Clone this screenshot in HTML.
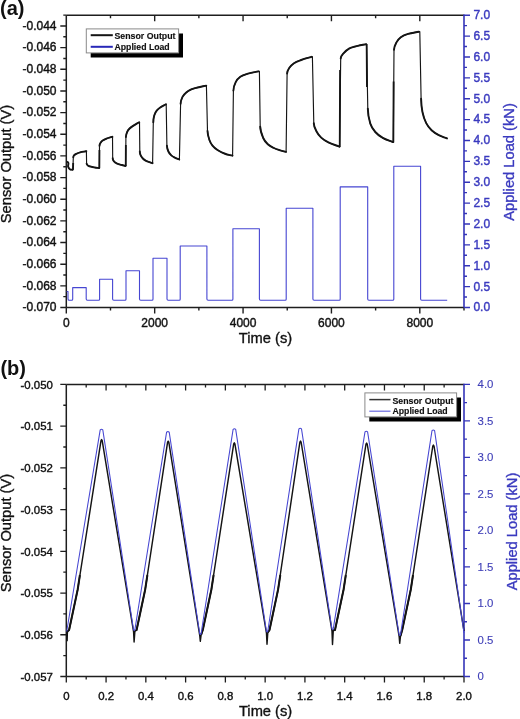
<!DOCTYPE html>
<html><head><meta charset="utf-8"><title>Sensor output vs applied load</title>
<style>
html,body{margin:0;padding:0;background:#fff;}
body{width:520px;height:719px;overflow:hidden;}
svg{display:block;will-change:transform;}
text{font-family:"Liberation Sans",sans-serif;fill:currentColor;color:#111;}
.ta{font-size:12px;stroke:currentColor;stroke-width:0.4px;}
.tb{font-size:11.4px;stroke:currentColor;stroke-width:0.38px;}
.tt{font-size:14.7px;stroke:currentColor;stroke-width:0.35px;}
.pl{font-size:20px;font-weight:bold;}
.lg{font-weight:bold;font-size:9px;stroke:currentColor;stroke-width:0.15px;}
</style></head>
<body>
<svg width="520" height="719" viewBox="0 0 520 719">
<rect width="520" height="719" fill="#fff"/>
<path d="M66.3 15.2V307.5M66.3 15.2H464M66.3 307.5H464" stroke="#1e1e1e" stroke-width="1.5" fill="none"/>
<path d="M464 14.6V308.1" stroke="#3434b8" stroke-width="1.6" fill="none"/>
<path d="M60.3 307.5H66.3M63.3 296.67H66.3M60.3 285.85H66.3M63.3 275.02H66.3M60.3 264.19H66.3M63.3 253.36H66.3M60.3 242.54H66.3M63.3 231.71H66.3M60.3 220.88H66.3M63.3 210.06H66.3M60.3 199.23H66.3M63.3 188.4H66.3M60.3 177.58H66.3M63.3 166.75H66.3M60.3 155.92H66.3M63.3 145.09H66.3M60.3 134.27H66.3M63.3 123.44H66.3M60.3 112.61H66.3M63.3 101.79H66.3M60.3 90.96H66.3M63.3 80.13H66.3M60.3 69.31H66.3M63.3 58.48H66.3M60.3 47.65H66.3M63.3 36.82H66.3M60.3 26H66.3M63.3 15.17H66.3M66.3 307.5V313.5M110.49 307.5V310.5M110.49 15.2V18.2M154.68 307.5V313.5M154.68 15.2V21.2M198.87 307.5V310.5M198.87 15.2V18.2M243.06 307.5V313.5M243.06 15.2V21.2M287.24 307.5V310.5M287.24 15.2V18.2M331.43 307.5V313.5M331.43 15.2V21.2M375.62 307.5V310.5M375.62 15.2V18.2M419.81 307.5V313.5M419.81 15.2V21.2M464 307.5V310.5" stroke="#1e1e1e" stroke-width="1.4" fill="none"/>
<path d="M464 307.5H470M464 297.06H467M464 286.62H470M464 276.18H467M464 265.74H470M464 255.3H467M464 244.86H470M464 234.43H467M464 223.99H470M464 213.55H467M464 203.11H470M464 192.67H467M464 182.23H470M464 171.79H467M464 161.35H470M464 150.91H467M464 140.47H470M464 130.03H467M464 119.59H470M464 109.15H467M464 98.71H470M464 88.27H467M464 77.84H470M464 67.4H467M464 56.96H470M464 46.52H467M464 36.08H470M464 25.64H467M464 15.2H470" stroke="#3434b8" stroke-width="1.4" fill="none"/>
<text x="56.5" y="311.3" class="ta" text-anchor="end">-0.070</text>
<text x="56.5" y="289.65" class="ta" text-anchor="end">-0.068</text>
<text x="56.5" y="267.99" class="ta" text-anchor="end">-0.066</text>
<text x="56.5" y="246.34" class="ta" text-anchor="end">-0.064</text>
<text x="56.5" y="224.68" class="ta" text-anchor="end">-0.062</text>
<text x="56.5" y="203.03" class="ta" text-anchor="end">-0.060</text>
<text x="56.5" y="181.38" class="ta" text-anchor="end">-0.058</text>
<text x="56.5" y="159.72" class="ta" text-anchor="end">-0.056</text>
<text x="56.5" y="138.07" class="ta" text-anchor="end">-0.054</text>
<text x="56.5" y="116.41" class="ta" text-anchor="end">-0.052</text>
<text x="56.5" y="94.76" class="ta" text-anchor="end">-0.050</text>
<text x="56.5" y="73.11" class="ta" text-anchor="end">-0.048</text>
<text x="56.5" y="51.45" class="ta" text-anchor="end">-0.046</text>
<text x="56.5" y="29.8" class="ta" text-anchor="end">-0.044</text>
<text x="66.3" y="327" class="ta" text-anchor="middle">0</text>
<text x="154.68" y="327" class="ta" text-anchor="middle">2000</text>
<text x="243.06" y="327" class="ta" text-anchor="middle">4000</text>
<text x="331.43" y="327" class="ta" text-anchor="middle">6000</text>
<text x="419.81" y="327" class="ta" text-anchor="middle">8000</text>
<text x="473.4" y="311.4" class="ta" style="color:#3a3abf">0.0</text>
<text x="473.4" y="290.52" class="ta" style="color:#3a3abf">0.5</text>
<text x="473.4" y="269.64" class="ta" style="color:#3a3abf">1.0</text>
<text x="473.4" y="248.76" class="ta" style="color:#3a3abf">1.5</text>
<text x="473.4" y="227.89" class="ta" style="color:#3a3abf">2.0</text>
<text x="473.4" y="207.01" class="ta" style="color:#3a3abf">2.5</text>
<text x="473.4" y="186.13" class="ta" style="color:#3a3abf">3.0</text>
<text x="473.4" y="165.25" class="ta" style="color:#3a3abf">3.5</text>
<text x="473.4" y="144.37" class="ta" style="color:#3a3abf">4.0</text>
<text x="473.4" y="123.49" class="ta" style="color:#3a3abf">4.5</text>
<text x="473.4" y="102.61" class="ta" style="color:#3a3abf">5.0</text>
<text x="473.4" y="81.74" class="ta" style="color:#3a3abf">5.5</text>
<text x="473.4" y="60.86" class="ta" style="color:#3a3abf">6.0</text>
<text x="473.4" y="39.98" class="ta" style="color:#3a3abf">6.5</text>
<text x="473.4" y="19.1" class="ta" style="color:#3a3abf">7.0</text>
<text x="265.5" y="343.4" class="tt" text-anchor="middle">Time (s)</text>
<text transform="translate(11.0 164.0) rotate(-90)" class="tt" text-anchor="middle">Sensor Output (V)</text>
<text transform="translate(514.3 162.0) rotate(-90)" class="tt" text-anchor="middle" style="color:#3a3abf">Applied Load (kN)</text>
<text x="0" y="14.6" class="pl">(a)</text>
<path d="M66.6 291.5H68.0V298.9Q68.0 300.2 69.3 300.2H71.7Q72.7 300.2 72.7 299.2V287.6H86.2V299Q86.2 300.2 87.4 300.2H98.6Q99.6 300.2 99.6 299.2V279.3H112.6V299Q112.6 300.2 113.8 300.2H125Q126 300.2 126 299.2V270.7H139.5V299Q139.5 300.2 140.7 300.2H152Q153 300.2 153 299.2V258.3H167V299Q167 300.2 168.2 300.2H179.2Q180.2 300.2 180.2 299.2V246H206.9V299Q206.9 300.2 208.1 300.2H231.9Q232.9 300.2 232.9 299.2V228.7H259.4V299Q259.4 300.2 260.6 300.2H285.2Q286.2 300.2 286.2 299.2V208.3H312.9V299Q312.9 300.2 314.1 300.2H339.2Q340.2 300.2 340.2 299.2V186.9H367.7V299Q367.7 300.2 368.9 300.2H392.8Q393.8 300.2 393.8 299.2V166.3H420.6V299Q420.6 300.2 421.8 300.2H447.2" stroke="#4646d2" stroke-width="1.1" fill="none" stroke-linejoin="round"/>
<path d="M66.7 161.2L67.9 162.2C69.32 163.38 67.72 165.02 68.2 166.8C68.5 167.91 68.85 168.54 69.8 169.2C70.71 169.83 71.42 169.56 72.5 169.8L72.9 169.8L73.3 157.3C73.33 156.49 73.47 156.01 74 155.4C74.73 154.55 75.3 154.3 76.3 153.8C77.79 153.05 78.59 152.74 80.2 152.3C82.44 151.69 83.62 151.65 85.9 151.2C86.06 151.17 86.14 151.14 86.3 151.1L86.4 151.1L86.6 163.6C86.61 164.47 87.1 164.89 87.8 165.4C88.89 166.19 89.61 166.31 90.9 166.7C92.43 167.16 93.23 167.24 94.8 167.5C96.55 167.8 97.44 167.86 99.2 168.1L99.3 168.1L99.5 145.8C99.51 144.34 100.05 143.65 100.8 142.4C101.36 141.48 101.81 141.1 102.7 140.5C104.11 139.56 104.92 139.23 106.5 138.6C108.57 137.78 109.67 137.55 111.8 136.9C112.03 136.83 112.16 136.84 112.4 136.8L112.5 136.8L112.7 158.3C112.71 159.53 112.96 160.25 113.75 161.2C114.8 162.47 115.61 162.9 117.1 163.6C118.91 164.45 119.98 164.45 121.9 165C123.34 165.41 124.06 165.6 125.5 166L125.7 166L125.9 137.1C125.92 134.92 126.34 133.81 127.2 131.8C127.85 130.3 128.44 129.64 129.6 128.5C130.99 127.14 131.87 126.67 133.5 125.6C135.72 124.14 136.92 123.56 139.2 122.2L139.5 122.2L139.8 151.5C139.82 153.1 140.04 153.94 140.7 155.4C141.38 156.9 141.95 157.57 143.1 158.75C144.1 159.76 144.72 160.19 146 160.8C148.51 161.99 149.9 162.24 152.5 163.2L152.6 163.2L153.3 122.3C153.35 119.51 153.47 118.08 154.25 115.4C154.85 113.33 155.38 112.3 156.7 110.6C157.97 108.96 158.9 108.38 160.6 107.2C162.6 105.82 163.78 105.43 165.9 104.25L166.2 104.2L166.9 145.6C166.94 148.03 167.4 149.28 168.4 151.5C169.2 153.27 169.87 154.08 171.3 155.4C172.64 156.64 173.57 156.96 175.2 157.8C176.74 158.6 177.6 158.82 179.2 159.5L179.4 159.8L180.6 103.75C180.66 100.91 181.22 99.44 182.5 96.9C183.54 94.83 184.49 94 186.25 92.5C188.04 90.97 189.1 90.36 191.25 89.4C193.64 88.34 194.97 88.14 197.5 87.5C200.97 86.62 202.75 86.36 206.25 85.6L206.4 85.6L207.5 131C207.59 134.68 208.21 136.52 209.4 140C210.23 142.42 210.89 143.61 212.5 145.6C214.18 147.67 215.27 148.54 217.5 150C220.31 151.83 221.87 152.55 225 153.75C227.86 154.84 229.44 154.92 232.4 155.7L232.6 155.7L233.4 90.6C233.44 87.12 234.14 85.32 235.7 82.2C236.97 79.66 237.97 78.42 240.3 76.8C242.99 74.92 244.75 74.63 247.9 73.7C252.1 72.46 254.32 72.32 258.6 71.4L259.4 71.3L260.2 126.6C260.27 131.31 261.33 133.67 263.2 138C264.42 140.84 265.54 142.09 267.8 144.2C269.9 146.16 271.32 146.72 273.9 148C276.27 149.18 277.58 149.49 280.1 150.3C282.43 151.05 283.64 151.26 286 151.9L286.1 152L287.1 73.6C287.13 71.21 287.88 69.99 289.2 68C290.7 65.74 291.74 64.71 294 63.2C296.62 61.45 298.24 61.08 301.2 60C305.29 58.51 307.44 58.08 311.6 56.8L312.4 56.7L313.8 123.2C313.87 126.56 314.86 128.21 316.4 131.2C317.86 134.05 318.86 135.42 321.2 137.6C323.73 139.96 325.3 140.85 328.4 142.4C332.39 144.39 334.64 144.79 338.8 146.4C339.08 146.51 339.22 146.58 339.5 146.7L339.6 146.8L340.7 58.4C340.73 56.11 342 55.13 343.5 53.4C345.53 51.07 346.66 49.84 349.4 48.4C352.47 46.78 354.34 46.75 357.7 45.9C361.02 45.06 362.74 44.88 366.1 44.2L366.6 44.1L367.8 108.6C367.91 114.68 368.44 117.81 370.3 123.6C371.49 127.32 372.73 129.06 375.3 132C377.81 134.87 379.48 136.01 382.8 137.9C386.59 140.05 388.86 140.36 392.9 142L393.3 142.5L394 49.8C394.02 46.78 394.86 45.26 396.3 42.6C397.64 40.13 398.54 38.87 400.8 37.2C403.38 35.3 405.03 34.82 408.1 33.9C412.32 32.63 414.58 32.61 418.9 31.75L419.8 31.6L421.1 98.7C421.21 104.13 421.39 106.89 422.5 112.2C423.44 116.71 424.13 118.99 426.2 123.1C427.82 126.32 429 127.81 431.6 130.3C434.11 132.71 435.72 133.58 438.8 135.2C441.92 136.84 443.72 137.12 447 138.4" stroke="#141414" stroke-width="1.15" fill="none" stroke-linejoin="round"/>
<path d="M67.9 162.2C69.32 163.38 67.72 165.02 68.2 166.8C68.5 167.91 68.85 168.54 69.8 169.2C70.71 169.83 71.42 169.56 72.5 169.8M73.3 157.3C73.33 156.49 73.47 156.01 74 155.4C74.73 154.55 75.3 154.3 76.3 153.8C77.79 153.05 78.59 152.74 80.2 152.3C82.44 151.69 83.62 151.65 85.9 151.2C86.06 151.17 86.14 151.14 86.3 151.1M86.6 163.6C86.61 164.47 87.1 164.89 87.8 165.4C88.89 166.19 89.61 166.31 90.9 166.7C92.43 167.16 93.23 167.24 94.8 167.5C96.55 167.8 97.44 167.86 99.2 168.1M99.5 145.8C99.51 144.34 100.05 143.65 100.8 142.4C101.36 141.48 101.81 141.1 102.7 140.5C104.11 139.56 104.92 139.23 106.5 138.6C108.57 137.78 109.67 137.55 111.8 136.9C112.03 136.83 112.16 136.84 112.4 136.8M112.7 158.3C112.71 159.53 112.96 160.25 113.75 161.2C114.8 162.47 115.61 162.9 117.1 163.6C118.91 164.45 119.98 164.45 121.9 165C123.34 165.41 124.06 165.6 125.5 166M125.9 137.1C125.92 134.92 126.34 133.81 127.2 131.8C127.85 130.3 128.44 129.64 129.6 128.5C130.99 127.14 131.87 126.67 133.5 125.6C135.72 124.14 136.92 123.56 139.2 122.2M139.8 151.5C139.82 153.1 140.04 153.94 140.7 155.4C141.38 156.9 141.95 157.57 143.1 158.75C144.1 159.76 144.72 160.19 146 160.8C148.51 161.99 149.9 162.24 152.5 163.2M153.3 122.3C153.35 119.51 153.47 118.08 154.25 115.4C154.85 113.33 155.38 112.3 156.7 110.6C157.97 108.96 158.9 108.38 160.6 107.2C162.6 105.82 163.78 105.43 165.9 104.25M166.9 145.6C166.94 148.03 167.4 149.28 168.4 151.5C169.2 153.27 169.87 154.08 171.3 155.4C172.64 156.64 173.57 156.96 175.2 157.8C176.74 158.6 177.6 158.82 179.2 159.5M180.6 103.75C180.66 100.91 181.22 99.44 182.5 96.9C183.54 94.83 184.49 94 186.25 92.5C188.04 90.97 189.1 90.36 191.25 89.4C193.64 88.34 194.97 88.14 197.5 87.5C200.97 86.62 202.75 86.36 206.25 85.6M207.5 131C207.59 134.68 208.21 136.52 209.4 140C210.23 142.42 210.89 143.61 212.5 145.6C214.18 147.67 215.27 148.54 217.5 150C220.31 151.83 221.87 152.55 225 153.75C227.86 154.84 229.44 154.92 232.4 155.7M233.4 90.6C233.44 87.12 234.14 85.32 235.7 82.2C236.97 79.66 237.97 78.42 240.3 76.8C242.99 74.92 244.75 74.63 247.9 73.7C252.1 72.46 254.32 72.32 258.6 71.4M260.2 126.6C260.27 131.31 261.33 133.67 263.2 138C264.42 140.84 265.54 142.09 267.8 144.2C269.9 146.16 271.32 146.72 273.9 148C276.27 149.18 277.58 149.49 280.1 150.3C282.43 151.05 283.64 151.26 286 151.9M287.1 73.6C287.13 71.21 287.88 69.99 289.2 68C290.7 65.74 291.74 64.71 294 63.2C296.62 61.45 298.24 61.08 301.2 60C305.29 58.51 307.44 58.08 311.6 56.8M313.8 123.2C313.87 126.56 314.86 128.21 316.4 131.2C317.86 134.05 318.86 135.42 321.2 137.6C323.73 139.96 325.3 140.85 328.4 142.4C332.39 144.39 334.64 144.79 338.8 146.4C339.08 146.51 339.22 146.58 339.5 146.7M340.7 58.4C340.73 56.11 342 55.13 343.5 53.4C345.53 51.07 346.66 49.84 349.4 48.4C352.47 46.78 354.34 46.75 357.7 45.9C361.02 45.06 362.74 44.88 366.1 44.2M367.8 108.6C367.91 114.68 368.44 117.81 370.3 123.6C371.49 127.32 372.73 129.06 375.3 132C377.81 134.87 379.48 136.01 382.8 137.9C386.59 140.05 388.86 140.36 392.9 142M394 49.8C394.02 46.78 394.86 45.26 396.3 42.6C397.64 40.13 398.54 38.87 400.8 37.2C403.38 35.3 405.03 34.82 408.1 33.9C412.32 32.63 414.58 32.61 418.9 31.75M421.1 98.7C421.21 104.13 421.39 106.89 422.5 112.2C423.44 116.71 424.13 118.99 426.2 123.1C427.82 126.32 429 127.81 431.6 130.3C434.11 132.71 435.72 133.58 438.8 135.2C441.92 136.84 443.72 137.12 447 138.4" stroke="#141414" stroke-width="1.9" fill="none" stroke-linecap="round"/>
<path d="M73.0 169.8L73.2 163.0M339.75 146.8L340.05 70M366.65 44.1L366.95 87M393.35 142.5L393.6 81.5M99.35 168L99.45 150M125.75 166L125.85 145" stroke="#141414" stroke-width="1.8" fill="none"/>
<rect x="90.7" y="33.5" width="92.3" height="24" fill="#000"/>
<rect x="86.3" y="28.9" width="92.3" height="24" fill="#fff" stroke="#8a8a8a" stroke-width="1"/>
<path d="M90.7 35.2H112.8" stroke="#141414" stroke-width="2"/>
<path d="M90.7 46.8H112.8" stroke="#2828b8" stroke-width="2"/>
<text x="114.5" y="38.9" class="lg" textLength="61" lengthAdjust="spacingAndGlyphs">Sensor Output</text>
<text x="114.5" y="50" class="lg" textLength="55.2" lengthAdjust="spacingAndGlyphs">Applied Load</text>
<path d="M66.3 384.4V676.5M66.3 384.4H464M66.3 676.5H464" stroke="#1e1e1e" stroke-width="1.5" fill="none"/>
<path d="M464 383.8V677.1" stroke="#3434b8" stroke-width="1.6" fill="none"/>
<path d="M60.3 676.5H66.3M63.3 655.64H66.3M60.3 634.77H66.3M63.3 613.91H66.3M60.3 593.04H66.3M63.3 572.18H66.3M60.3 551.31H66.3M63.3 530.45H66.3M60.3 509.59H66.3M63.3 488.72H66.3M60.3 467.86H66.3M63.3 446.99H66.3M60.3 426.13H66.3M63.3 405.26H66.3M60.3 384.4H66.3M66.3 676.5V682.5M86.19 676.5V679.5M86.19 384.4V387.4M106.07 676.5V682.5M106.07 384.4V390.4M125.96 676.5V679.5M125.96 384.4V387.4M145.84 676.5V682.5M145.84 384.4V390.4M165.72 676.5V679.5M165.72 384.4V387.4M185.61 676.5V682.5M185.61 384.4V390.4M205.5 676.5V679.5M205.5 384.4V387.4M225.38 676.5V682.5M225.38 384.4V390.4M245.26 676.5V679.5M245.26 384.4V387.4M265.15 676.5V682.5M265.15 384.4V390.4M285.04 676.5V679.5M285.04 384.4V387.4M304.92 676.5V682.5M304.92 384.4V390.4M324.81 676.5V679.5M324.81 384.4V387.4M344.69 676.5V682.5M344.69 384.4V390.4M364.57 676.5V679.5M364.57 384.4V387.4M384.46 676.5V682.5M384.46 384.4V390.4M404.35 676.5V679.5M404.35 384.4V387.4M424.23 676.5V682.5M424.23 384.4V390.4M444.12 676.5V679.5M444.12 384.4V387.4M464 676.5V682.5" stroke="#1e1e1e" stroke-width="1.3" fill="none"/>
<path d="M464 676.5H470M464 658.24H467M464 639.99H470M464 621.73H467M464 603.48H470M464 585.22H467M464 566.96H470M464 548.71H467M464 530.45H470M464 512.19H467M464 493.94H470M464 475.68H467M464 457.42H470M464 439.17H467M464 420.91H470M464 402.66H467M464 384.4H470" stroke="#3434b8" stroke-width="1.3" fill="none"/>
<text x="52.9" y="680.8" class="tb" text-anchor="end">-0.057</text>
<text x="52.9" y="639.07" class="tb" text-anchor="end">-0.056</text>
<text x="52.9" y="597.34" class="tb" text-anchor="end">-0.055</text>
<text x="52.9" y="555.61" class="tb" text-anchor="end">-0.054</text>
<text x="52.9" y="513.89" class="tb" text-anchor="end">-0.053</text>
<text x="52.9" y="472.16" class="tb" text-anchor="end">-0.052</text>
<text x="52.9" y="430.43" class="tb" text-anchor="end">-0.051</text>
<text x="52.9" y="388.7" class="tb" text-anchor="end">-0.050</text>
<text x="66.3" y="699.6" class="tb" text-anchor="middle">0</text>
<text x="106.07" y="699.6" class="tb" text-anchor="middle">0.2</text>
<text x="145.84" y="699.6" class="tb" text-anchor="middle">0.4</text>
<text x="185.61" y="699.6" class="tb" text-anchor="middle">0.6</text>
<text x="225.38" y="699.6" class="tb" text-anchor="middle">0.8</text>
<text x="265.15" y="699.6" class="tb" text-anchor="middle">1.0</text>
<text x="304.92" y="699.6" class="tb" text-anchor="middle">1.2</text>
<text x="344.69" y="699.6" class="tb" text-anchor="middle">1.4</text>
<text x="384.46" y="699.6" class="tb" text-anchor="middle">1.6</text>
<text x="424.23" y="699.6" class="tb" text-anchor="middle">1.8</text>
<text x="464" y="699.6" class="tb" text-anchor="middle">2.0</text>
<text x="477.6" y="680.1" class="tb" style="color:#4040b8;stroke-width:0.12px">0</text>
<text x="477.6" y="643.59" class="tb" style="color:#4040b8;stroke-width:0.12px">0.5</text>
<text x="477.6" y="607.08" class="tb" style="color:#4040b8;stroke-width:0.12px">1.0</text>
<text x="477.6" y="570.56" class="tb" style="color:#4040b8;stroke-width:0.12px">1.5</text>
<text x="477.6" y="534.05" class="tb" style="color:#4040b8;stroke-width:0.12px">2.0</text>
<text x="477.6" y="497.54" class="tb" style="color:#4040b8;stroke-width:0.12px">2.5</text>
<text x="477.6" y="461.02" class="tb" style="color:#4040b8;stroke-width:0.12px">3.0</text>
<text x="477.6" y="424.51" class="tb" style="color:#4040b8;stroke-width:0.12px">3.5</text>
<text x="477.6" y="388" class="tb" style="color:#4040b8;stroke-width:0.12px">4.0</text>
<text x="265.6" y="715.5" class="tt" text-anchor="middle">Time (s)</text>
<text transform="translate(11.0 533.0) rotate(-90)" class="tt" text-anchor="middle">Sensor Output (V)</text>
<text transform="translate(517.0 531.5) rotate(-90)" class="tt" text-anchor="middle" style="color:#3a3abf">Applied Load (kN)</text>
<text x="0.4" y="374.6" class="pl">(b)</text>
<path d="M67.4 631.5L69.1 630L77.7 589.5L79.9 575M134.9 631L136.6 630L145.2 589.5L147.4 575M201.1 635L202.8 630L211.4 589.5L213.6 575M267.8 632.5L269.5 630L278.1 589.5L280.3 575M333.3 630.2L335 630L343.6 589.5L345.8 575M400.5 636L402.2 630L410.8 589.5L413 575" stroke="#141414" stroke-width="2.0" fill="none" stroke-linejoin="round"/>
<path d="M67.1 641.3L67.4 631.5L69.1 630L77.7 589.5L101 440.6L101.6 439.6L102.2 440.6L133.6 632L134.1 642L134.9 631L136.6 630L145.2 589.5L167.6 442.2L168.2 441.2L168.8 442.2L199.8 636L200.3 641.3L201.1 635L202.8 630L211.4 589.5L233.7 443.8L234.3 442.8L234.9 443.8L266.5 633.5L267 644.3L267.8 632.5L269.5 630L278.1 589.5L299.9 442L300.5 441L301.1 442L332 631.2L332.5 644.5L333.3 630.2L335 630L343.6 589.5L366 444L366.6 443L367.2 444L399.2 637L399.7 643.3L400.5 636L402.2 630L410.8 589.5L432.8 446L433.4 445L434 446L464 631" stroke="#141414" stroke-width="1.45" fill="none" stroke-linejoin="round"/>
<path d="M66.7 631.5L100.2 429.9Q101.5 428.7 102.8 429.9L133.5 629.5Q134.2 631.6 134.9 629.5L166.6 432.2Q167.9 431 169.2 432.2L199.7 633.5Q200.4 635.6 201.1 633.5L233.1 429.3Q234.4 428.1 235.7 429.3L266.4 631Q267.1 633.1 267.8 631L298.9 428.8Q300.2 427.6 301.5 428.8L331.9 628.7Q332.6 630.8 333.3 628.7L365 431.8Q366.3 430.6 367.6 431.8L399.1 634.5Q399.8 636.6 400.5 634.5L432 430.6Q433.3 429.4 434.6 430.6L464 633" stroke="#4646d2" stroke-width="1.05" fill="none" stroke-linejoin="round"/>
<rect x="369.3" y="397.5" width="91.7" height="24" fill="#000"/>
<rect x="364.9" y="392.9" width="91.7" height="24" fill="#fff" stroke="#8a8a8a" stroke-width="1"/>
<path d="M369.3 399.6H390.5" stroke="#333" stroke-width="1.5"/>
<path d="M369.3 411.2H390.5" stroke="#6a6ae0" stroke-width="1.2"/>
<text x="392.5" y="403.5" class="lg" textLength="61" lengthAdjust="spacingAndGlyphs">Sensor Output</text>
<text x="392.5" y="414" class="lg" textLength="55.2" lengthAdjust="spacingAndGlyphs">Applied Load</text>
</svg>
</body></html>
